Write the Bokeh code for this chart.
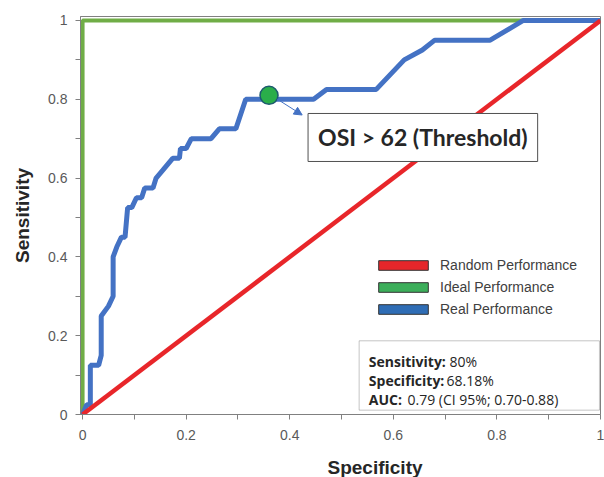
from bokeh.plotting import figure
from bokeh.models import (Range1d, FixedTicker, NumeralTickFormatter, Label, Legend,
                          LegendItem, Arrow, NormalHead, BoxAnnotation, Title)
from bokeh.embed import file_html
from bokeh.resources import INLINE

# ---- data ----
real_x = [0, 0.008, 0.015, 0.015, 0.031, 0.036, 0.036, 0.05, 0.059, 0.059, 0.066, 0.075,
          0.082, 0.087, 0.095, 0.104, 0.114, 0.12, 0.136, 0.142, 0.155, 0.174, 0.187,
          0.189, 0.2, 0.21, 0.248, 0.264, 0.296, 0.315, 0.446, 0.471, 0.567, 0.621,
          0.656, 0.68, 0.787, 0.851, 1.0]
real_y = [0, 0.025, 0.025, 0.125, 0.125, 0.15, 0.25, 0.275, 0.30, 0.40, 0.425, 0.45,
          0.45, 0.525, 0.525, 0.55, 0.55, 0.575, 0.575, 0.60, 0.62, 0.65, 0.65,
          0.675, 0.675, 0.70, 0.70, 0.725, 0.725, 0.80, 0.80, 0.825, 0.825, 0.90,
          0.925, 0.95, 0.95, 1.0, 1.0]
ideal_x = [0, 0, 1]
ideal_y = [0, 1, 1]
random_x = [0, 1]
random_y = [0, 1]
threshold_x = [0.36]
threshold_y = [0.81]
ticks = [0, 0.2, 0.4, 0.6, 0.8, 1]
minor = [0.1, 0.3, 0.5, 0.7, 0.9]
legend_labels = ["Random Performance", "Ideal Performance", "Real Performance"]
stats_labels = ["Sensitivity:", "Specificity:", "AUC:"]
stats_values = ["80%", "68.18%", "0.79 (CI 95%; 0.70-0.88)"]
annotation_text = "OSI > 62 (Threshold)"

RED = "#E8262A"
GREEN = "#70AD47"
BLUE = "#4472C4"
NAN = float("nan")

p = figure(frame_width=520, frame_height=398, output_backend="svg", toolbar_location=None,
           x_range=Range1d(-0.004, 1), y_range=Range1d(0, 1.01),
           min_border_left=80, min_border_right=4, min_border_top=16, min_border_bottom=63)
p.outline_line_color = "#808080"
p.outline_line_width = 1
p.xgrid.visible = False
p.ygrid.visible = False
p.background_fill_color = "white"

for ax in (p.xaxis[0], p.yaxis[0]):
    ax.ticker = FixedTicker(ticks=ticks, minor_ticks=minor)
    ax.formatter = NumeralTickFormatter(format="0.[0]")
    ax.axis_line_color = "#808080"
    ax.major_tick_line_color = "#808080"
    ax.minor_tick_line_color = "#808080"
    ax.major_tick_out = 5
    ax.major_tick_in = 0
    ax.minor_tick_out = 5
    ax.minor_tick_in = 0
    ax.major_label_text_font = "Liberation Sans"
    ax.major_label_text_font_size = "14px"
    ax.major_label_text_color = "#595959"
p.xaxis.major_label_standoff = 10
p.yaxis.major_label_standoff = 8

p.yaxis.axis_label = "Sensitivity"
p.yaxis.axis_label_text_font = "Liberation Sans"
p.yaxis.axis_label_text_font_style = "bold"
p.yaxis.axis_label_text_font_size = "19px"
p.yaxis.axis_label_text_color = "#262626"
p.yaxis.axis_label_standoff = 12

p.add_layout(Title(text="Specificity", align="left", offset=247, standoff=24,
                   text_font="Liberation Sans", text_font_style="bold",
                   text_font_size="19px", text_color="#262626"), "below")

# lines
p.line(ideal_x, ideal_y, line_color=GREEN, line_width=4)
p.line(real_x, real_y, line_color=BLUE, line_width=5)
p.line(random_x, random_y, line_color=RED, line_width=4.5)

# threshold marker + arrow
p.scatter(threshold_x, threshold_y, size=18, fill_color="#2AAE4A", line_color="#1D5A6E", line_width=1.5)
p.add_layout(Arrow(end=NormalHead(size=8, fill_color=BLUE, line_color=BLUE),
                   x_start=0.375, y_start=0.801, x_end=0.424, y_end=0.76,
                   line_color=BLUE, line_width=1))
p.add_layout(Label(x=0.657, y=0.703, text=annotation_text, text_align="center",
                   text_baseline="middle", text_font="Lato", text_font_style="bold",
                   text_font_size="23px", text_color="#262626",
                   background_fill_color="white", border_line_color="#505050",
                   border_line_width=1, padding=10))

# legend with filled rectangles
leg_fill = ["#E5262A", "#3CAE5A", "#2F6DB5"]
items = []
for lab, col in zip(legend_labels, leg_fill):
    r = p.quad(left=[NAN], right=[NAN], top=[NAN], bottom=[NAN], fill_color=col,
               line_color="#333333", line_width=1)
    items.append(LegendItem(label=lab, renderers=[r]))
legend = Legend(items=items, location=(292, 97), glyph_width=62, glyph_height=12,
                label_text_font="Liberation Sans", label_text_font_size="14px",
                label_text_color="#404040", label_standoff=6, spacing=6, padding=0,
                margin=0, border_line_alpha=0, background_fill_alpha=0, label_height=12)
p.add_layout(legend)

# stats box
p.add_layout(BoxAnnotation(left=0.534, right=0.998, bottom=0.011, top=0.187,
                           fill_color="white", fill_alpha=1, line_color="#404040", line_width=1))
ys = [0.1347, 0.0874, 0.0391]
vx = [0.7085, 0.7027, 0.6274]
for lab, val, yy, xx in zip(stats_labels, stats_values, ys, vx):
    p.add_layout(Label(x=0.5527, y=yy, text=lab, text_font="Open Sans", text_font_style="bold",
                       text_font_size="14px", text_color="#262626", text_baseline="alphabetic"))
    p.add_layout(Label(x=xx, y=yy, text=val, text_font="Open Sans",
                       text_font_size="14px", text_color="#262626", text_baseline="alphabetic"))

open("out.html", "w").write(file_html(p, INLINE))
